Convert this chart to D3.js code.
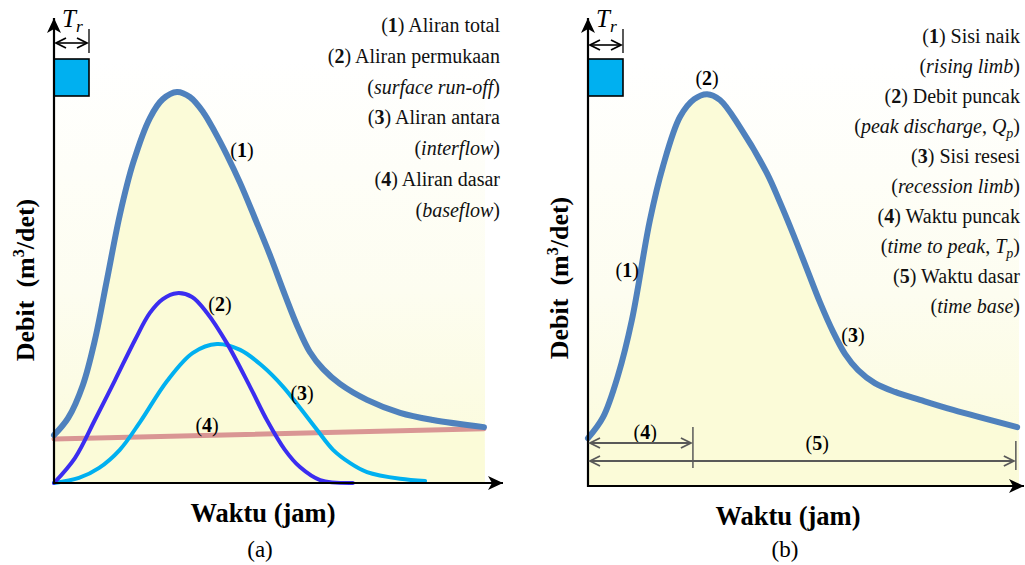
<!DOCTYPE html>
<html>
<head>
<meta charset="utf-8">
<script src="https://cdn.jsdelivr.net/npm/d3@7"></script>
<style>
  body { margin: 0; background: #fff; }
  svg { display: block; }
</style>
</head>
<body>
<div id="chart"></div>
<script>
// time (0-100) and discharge (0-100) in relative units
// panel (a) - hydrograph components
const totalA = [
  [0, 11.4], [3.3, 15.5], [6.7, 23.3], [9.5, 34.0], [12.3, 48.3], [15.3, 63.8],
  [18.4, 76.2], [22.3, 86.9], [25.3, 91.4], [28.6, 93.1], [31.6, 91.9], [34.7, 88.3],
  [37.4, 83.6], [40.2, 78.1], [43.3, 71.4], [46.7, 63.1], [50.2, 54.3], [53.7, 44.8],
  [56.7, 37.1], [59.5, 31.2], [62.6, 27.1], [66.5, 23.6], [72.8, 19.8], [80.5, 16.7],
  [88.1, 15.0], [100, 13.3],
];
const surfaceA = [
  [0, 0], [4.9, 6.0], [9.5, 15.0], [14.2, 24.5], [18.8, 34.0], [22.3, 40.5], [25.3, 43.8],
  [28.6, 45.2], [32.1, 44.3], [35.6, 40.5], [40.2, 33.3], [45.6, 22.9], [49.5, 15.0],
  [53.7, 7.9], [57.2, 3.8], [61.9, 0.7], [69.5, 0],
];
const interA = [
  [0, 0], [5.8, 1.2], [10.5, 3.6], [15.3, 7.9], [20.0, 14.5], [26.3, 24.3], [32.3, 31.0],
  [37.9, 33.1], [43.3, 31.7], [48.4, 27.9], [53.3, 22.9], [57.2, 17.9], [61.2, 12.6],
  [64.9, 7.9], [68.8, 4.8], [72.8, 2.6], [80.5, 1.0], [86.3, 0.5],
];
const baseA = [[0, 10.5], [100, 12.9]];

// panel (b) - hydrograph parts
const totalB = [
  [0, 11.4], [3.5, 16.4], [7.0, 26.4], [10.2, 39.5], [14.4, 63.3], [17.4, 76.0],
  [21.4, 87.9], [24.7, 92.1], [27.7, 93.3], [30.7, 91.9], [35.3, 85.5], [41.6, 74.5],
  [44.7, 67.4], [47.7, 60.0], [51.0, 51.4], [54.0, 43.6], [57.0, 36.7], [59.8, 31.4],
  [62.8, 27.6], [66.7, 24.5], [71.4, 22.4], [77.2, 20.5], [84.9, 18.1], [99.8, 14.0],
];
const timeToPeak = 24.4;
const timeBase = 99.5;

// curve labels [text, t, q]
const labelsA = [["1", 43.7, 79.3], ["2", 38.6, 42.6], ["3", 57.7, 21.4], ["4", 35.6, 13.8]];
const labelsB = [["1", 9.1, 51.4], ["2", 27.7, 97.1], ["3", 61.6, 36.0], ["4", 13.3, 12.9], ["5", 53.3, 10.2]];

// legend lines (** bold, * italic, _ italic subscript)
const legendA = [
  "(**1**) Aliran total", "(**2**) Aliran permukaan", "(*surface run-off*)",
  "(**3**) Aliran antara", "(*interflow*)", "(**4**) Aliran dasar", "(*baseflow*)",
];
const legendB = [
  "(**1**) Sisi naik", "(*rising limb*)", "(**2**) Debit puncak", "(*peak discharge*, *Q*_p_)",
  "(**3**) Sisi resesi", "(*recession limb*)", "(**4**) Waktu puncak", "(*time to peak*, *T*_p_)",
  "(**5**) Waktu dasar", "(*time base*)",
];

const svg = d3.select("#chart").append("svg").attr("width", 1025).attr("height", 565)
  .attr("font-family", "'Liberation Serif', 'Times New Roman', serif");
const defs = svg.append("defs");

const bgGrad = defs.append("linearGradient").attr("id", "bg").attr("x1", 0).attr("y1", 0).attr("x2", 0).attr("y2", 1);
bgGrad.append("stop").attr("offset", "0%").attr("stop-color", "#ffffff");
bgGrad.append("stop").attr("offset", "55%").attr("stop-color", "#fdfdf0");
bgGrad.append("stop").attr("offset", "100%").attr("stop-color", "#fbfbd9");

// filled arrowhead for axes
defs.append("marker").attr("id", "axhead").attr("viewBox", "-16 -8 18 16")
  .attr("refX", 0).attr("refY", 0).attr("markerWidth", 18).attr("markerHeight", 16)
  .attr("markerUnits", "userSpaceOnUse").attr("orient", "auto")
  .append("path").attr("d", "M0,0 L-15,-7 L-11,0 L-15,7 Z").attr("fill", "#000");

// open V heads for dimension arrows
const vHead = (id, color) =>
  defs.append("marker").attr("id", id).attr("viewBox", "-12 -7 14 14")
    .attr("refX", 0).attr("refY", 0).attr("markerWidth", 14).attr("markerHeight", 14)
    .attr("markerUnits", "userSpaceOnUse").attr("orient", "auto-start-reverse")
    .append("path").attr("d", "M-10,-5 L0,0 L-10,5").attr("fill", "none")
    .attr("stroke", color).attr("stroke-width", 1.8);
vHead("vblack", "#000");
vHead("vgray", "#595959");

const addRich = (textSel, str) => {
  let shift = 0;
  str.split(/(\*\*.+?\*\*|\*.+?\*|_.+?_)/).filter((s) => s).forEach((part) => {
    const ts = textSel.append("tspan");
    let dy = -shift;
    shift = 0;
    if (part.startsWith("**")) {
      ts.text(part.slice(2, -2)).attr("font-weight", "bold");
    } else if (part.startsWith("*")) {
      ts.text(part.slice(1, -1)).attr("font-style", "italic");
    } else if (part.startsWith("_")) {
      ts.text(part.slice(1, -1)).attr("font-style", "italic").attr("font-size", "0.7em");
      dy += 5;
      shift = 5;
    } else {
      ts.text(part);
    }
    if (dy) ts.attr("dy", dy);
  });
};

const drawPanel = (p) => {
  const x = d3.scaleLinear().domain([0, 100]).range([p.left, p.right]);
  const y = d3.scaleLinear().domain([0, 100]).range([p.base, p.base - 420]);
  const g = svg.append("g");

  const line = d3.line().x((d) => x(d[0])).y((d) => y(d[1])).curve(d3.curveCatmullRom.alpha(0.5));
  const area = d3.area().x((d) => x(d[0])).y0(y(0)).y1((d) => y(d[1])).curve(d3.curveCatmullRom.alpha(0.5));

  // shaded background and area under total flow
  g.append("rect").attr("x", x(0)).attr("y", p.base - 425).attr("width", x(100) - x(0) + 1)
    .attr("height", 425).attr("fill", "url(#bg)");
  g.append("path").attr("d", area(p.total)).attr("fill", "#fbfbd8");

  // rainfall block and T_r
  g.append("rect").attr("x", p.left).attr("y", 59).attr("width", 35).attr("height", 37)
    .attr("fill", "#00b0f0").attr("stroke", "#000").attr("stroke-width", 1.6);
  g.append("line").attr("x1", p.left + 35).attr("x2", p.left + 35).attr("y1", 29).attr("y2", 53)
    .attr("stroke", "#000").attr("stroke-width", 1.3);
  g.append("line").attr("x1", p.left + 2).attr("x2", p.left + 33).attr("y1", p.trY).attr("y2", p.trY)
    .attr("stroke", "#000").attr("stroke-width", 1.6)
    .attr("marker-start", "url(#vblack)").attr("marker-end", "url(#vblack)");
  const tr = g.append("text").attr("x", p.left + 8).attr("y", 27).attr("font-size", 25);
  addRich(tr, "*T*_r_");

  p.series.forEach((s) => {
    g.append("path").attr("d", line(s.data)).attr("fill", "none")
      .attr("stroke", s.color).attr("stroke-width", s.width).attr("stroke-linecap", "round");
  });

  // axes
  g.append("line").attr("x1", p.left).attr("x2", p.left).attr("y1", p.base + 1).attr("y2", 18)
    .attr("stroke", "#000").attr("stroke-width", 2.2).attr("marker-end", "url(#axhead)");
  g.append("line").attr("x1", p.left - 1).attr("x2", p.axisEnd).attr("y1", p.base).attr("y2", p.base)
    .attr("stroke", "#000").attr("stroke-width", 2.2).attr("marker-end", "url(#axhead)");

  // curve labels
  p.labels.forEach(([t, tx, q]) => {
    const lt = g.append("text").attr("x", x(tx)).attr("y", y(q) + 7)
      .attr("text-anchor", "middle").attr("font-size", 20);
    addRich(lt, `(**${t}**)`);
  });

  // legend
  p.legend.forEach((str, i) => {
    const t = g.append("text").attr("x", p.legendX).attr("y", p.legendY + i * p.legendStep)
      .attr("text-anchor", "end").attr("font-size", 20).attr("fill", "#111");
    addRich(t, str);
  });

  // axis titles
  const yt = g.append("text").attr("transform", `translate(${p.left - 20},${p.yTitle}) rotate(-90)`)
    .attr("text-anchor", "middle").attr("font-size", 26).attr("font-weight", "bold");
  yt.append("tspan").text("Debit\u00a0\u00a0(m");
  yt.append("tspan").text("3").attr("font-size", 16).attr("dy", -10);
  yt.append("tspan").text("/det)").attr("dy", 10);
  g.append("text").attr("x", p.titleX).attr("y", p.base + 39)
    .attr("text-anchor", "middle").attr("font-size", 26.5).attr("font-weight", "bold").text("Waktu (jam)");
  g.append("text").attr("x", p.titleX - 3).attr("y", 557)
    .attr("text-anchor", "middle").attr("font-size", 23).text(p.tag);

  return { g, x, y };
};

drawPanel({
  left: 54, right: 484, axisEnd: 503, base: 483, trY: 43, tag: "(a)", yTitle: 280, titleX: 263,
  total: totalA,
  series: [
    { data: baseA, color: "#d99694", width: 5 },
    { data: interA, color: "#00b0f0", width: 4 },
    { data: surfaceA, color: "#3b2df0", width: 4 },
    { data: totalA, color: "#4f81bd", width: 6 },
  ],
  labels: labelsA, legend: legendA, legendX: 500, legendY: 32, legendStep: 30.8,
});

const pb = drawPanel({
  left: 588, right: 1018, axisEnd: 1024, base: 486, trY: 45, tag: "(b)", yTitle: 278, titleX: 788,
  total: totalB,
  series: [{ data: totalB, color: "#4f81bd", width: 6 }],
  labels: labelsB, legend: legendB, legendX: 1020, legendY: 43, legendStep: 30,
});

// time to peak and time base
const dim = pb.g.append("g").attr("stroke", "#595959").attr("stroke-width", 2);
dim.append("line").attr("x1", pb.x(0) + 2).attr("x2", pb.x(timeToPeak) - 2).attr("y1", 443).attr("y2", 443)
  .attr("marker-start", "url(#vgray)").attr("marker-end", "url(#vgray)");
dim.append("line").attr("x1", pb.x(0) + 2).attr("x2", pb.x(timeBase) - 2).attr("y1", 461).attr("y2", 461)
  .attr("marker-start", "url(#vgray)").attr("marker-end", "url(#vgray)");
dim.append("line").attr("x1", pb.x(timeToPeak)).attr("x2", pb.x(timeToPeak)).attr("y1", 427).attr("y2", 468)
  .attr("stroke-width", 1.5);
dim.append("line").attr("x1", pb.x(timeBase)).attr("x2", pb.x(timeBase)).attr("y1", 441).attr("y2", 470)
  .attr("stroke-width", 1.5);
</script>
</body>
</html>
